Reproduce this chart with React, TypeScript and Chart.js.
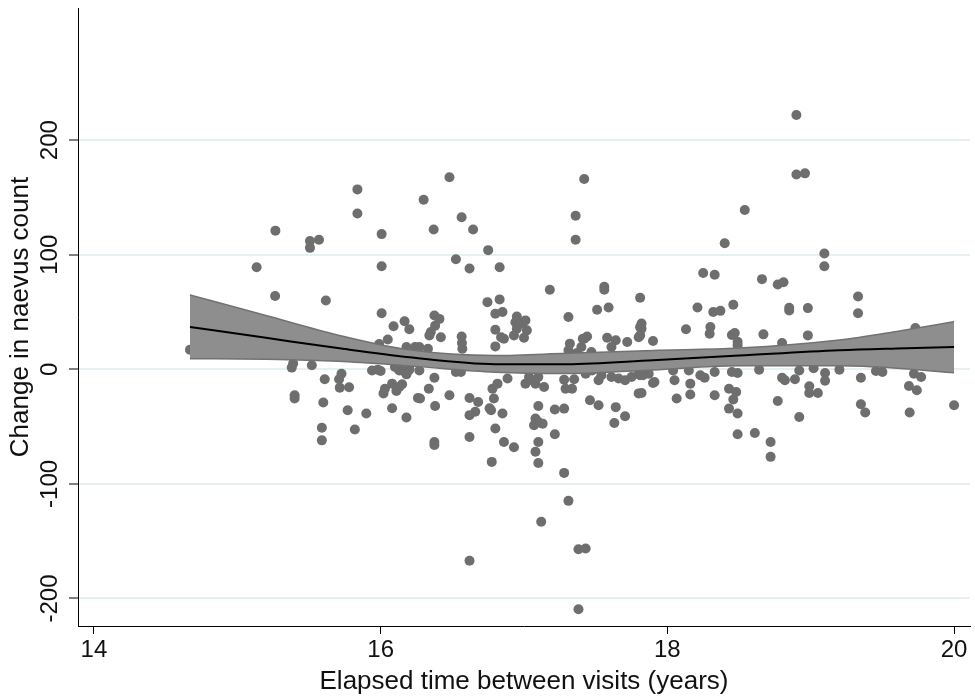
import React, { useEffect, useRef } from "react";
import { Chart, registerables } from "chart.js";

Chart.register(...registerables);

// Scatter: elapsed time (years) vs change in naevus count
const elapsedYears = [
  14.67, 15.135, 15.266, 15.507, 15.57, 15.507, 15.838, 15.838, 16.007, 16.007,
  15.264, 15.618, 16.007, 16.09, 16.167, 16.2, 16.05, 15.99, 15.39, 15.38,
  15.52, 15.61, 15.727, 15.71, 15.715, 15.78, 15.4, 15.4, 15.6, 15.77,
  15.9, 16.08, 16.18, 15.59, 15.59, 15.82, 15.94, 15.98, 16.0, 16.03,
  16.02, 16.08, 16.13, 16.15, 16.11, 16.18, 16.26, 16.15, 16.2, 16.18,
  16.25, 16.375, 16.41, 16.38, 16.35, 16.34, 16.42, 16.565, 16.567, 16.57,
  16.24, 16.27, 16.33, 16.1, 16.13, 16.18, 16.2, 16.27, 16.525, 16.56,
  16.375, 16.336, 16.275, 16.38, 16.48, 16.62, 16.68, 16.66, 16.62, 16.77,
  16.78, 16.79, 16.815, 16.745, 16.8, 16.8, 16.8, 17.18, 17.56, 17.56,
  17.81, 16.83, 16.85, 17.51, 17.59, 17.31, 16.95, 16.94, 16.99, 17.01,
  16.95, 17.02, 17.0, 16.93, 16.84, 16.86, 17.32, 17.31, 17.37, 17.4,
  17.41, 17.44, 17.42, 17.47, 17.58, 17.64, 17.61, 17.72, 17.8, 17.81,
  16.375, 16.375, 16.62, 16.76, 16.8, 16.85, 16.885, 16.86, 16.93, 16.775,
  17.035, 17.06, 17.1, 17.08, 17.01, 17.14, 17.1, 17.08, 17.1, 17.07,
  17.13, 17.215, 17.28, 17.215, 17.1, 17.08, 17.1, 17.28, 17.28, 17.35,
  17.29, 17.335, 17.46, 17.52, 17.52, 17.54, 17.61, 17.66, 17.705, 17.75,
  17.81, 17.8, 17.64, 17.705, 17.63, 17.405, 17.475, 17.43, 17.82, 17.82,
  17.81, 17.9, 17.9, 18.21, 18.32, 18.37, 18.46, 18.13, 18.3, 18.295,
  18.45, 18.47, 18.49, 18.49, 18.67, 18.85, 18.85, 18.98, 18.8, 18.98,
  19.33, 19.33, 19.73, 17.8, 17.83, 17.87, 17.91, 17.82, 18.04, 18.05,
  18.065, 18.15, 18.16, 18.16, 18.23, 18.26, 18.33, 18.33, 18.45, 18.49,
  18.43, 18.48, 18.46, 18.43, 18.49, 18.49, 18.61, 18.72, 18.72, 18.64,
  18.77, 18.8, 18.82, 18.89, 18.92, 18.92, 18.99, 18.99, 19.05, 19.02,
  19.1, 19.1, 19.2, 19.35, 19.35, 19.38, 19.455, 19.5, 19.685, 19.74,
  19.69, 19.72, 19.77, 20.0, 18.9, 18.9, 18.96, 18.54, 18.4, 19.095,
  19.095, 18.25, 18.33, 18.66, 18.77, 18.81, 16.48, 16.3, 16.565, 16.37,
  16.645, 16.75, 16.525, 16.62, 16.83, 17.42, 17.36, 17.36, 17.31, 17.12,
  17.38, 17.43, 16.62, 17.38,
];

const naevusChange = [
  17, 89, 121, 112, 113, 106, 157, 136, 118, 90,
  64, 60, 49, 37.5, 42, 35, 26, 22, 5, 1.5,
  3.5, -8.7, -3.8, -8.7, -16, -15.7, -22.7, -25.5, -29, -35.7,
  -38.6, -34, -42, -51, -62, -52.6, -1, -0.3, -1.5, -17,
  -21, -12.5, -15.4, -13, -19, -4.4, -25, -1, -0.3, 19.4,
  18, 47, 44, 38, 32.5, 29.6, 28, 28.7, 23, 18,
  19.4, 19.4, 18, 2, -1, -3.8, 0.6, -1, -2.3, -2.3,
  -7.3, -17, -25.5, -32, -22.7, -25, -28.5, -37, -40, -35.7,
  -17, -25.5, -12.5, 58.6, 48.5, 34.6, 20, 69.5, 72, 69.5,
  62.5, 61, 50, 52, 54, 45.6, 46, 41, 40, 42.7,
  35.5, 34, 27.6, 29.6, 28, 26.7, 22.4, 16.5, 14.2, 19.4,
  26.7, 28.7, 26.7, 15, 27.6, 25.3, 19.4, 23.8, 28, 36.8,
  -63.4, -66, -59, -34, -51.7, -38.6, -8, -63.4, -68, -80.8,
  -6.7, -9.6, -6.7, -12.5, -12.5, -15.4, -32, -43, -46, -48.8,
  -47.4, -35, -34.3, -56.6, -63.4, -72, -81.7, -90.4, -9, -8.7,
  -17, -17, -27, -31.4, -9.6, -5.2, -6.7, -8, -9.6, -6.7,
  -5.2, -21, -33, -41, -46.8, 0.6, -1, -3.8, 40, 35.5,
  29.6, 24.7, -12, 54, 50, 51, 56.4, 35, 37, 31,
  30, 31.7, 24, 21, 30.5, 53.8, 51.4, 53.4, 23, 29.6,
  63.6, 49, 36, -3.8, -5.2, -3.8, -11, -20.6, -1, -9.6,
  -25.5, -1, -12.5, -22, -5.2, -7.3, -2.3, -22.7, -2.3, -3.2,
  -17, -19.8, -26.4, -34.3, -38.6, -56.6, -55.5, -63.4, -76.4, -0.3,
  -27.6, -7.3, -9.6, -8.7, -1, -41.6, -14.8, -20.6, -20.6, 1,
  -3.2, -10, -0.3, -7.3, -30.5, -37.7, -1.5, -2.3, -14.5, -18.3,
  -37.7, -3.8, -6.7, -31.4, 222, 170, 171, 139, 110, 101,
  90, 84, 82.5, 78.7, 74, 76, 167.6, 148, 132.7, 122,
  122, 104, 96, 88, 89, 166, 134, 113, -114.8, -133,
  -157, -156.4, -167, -209.4,
];

// Smoothed fit with confidence band
const fitYears = [14.67, 15.2, 15.7, 16.2, 16.8, 17.3, 17.9, 18.5, 19.2, 19.6, 20.0];
const fitValues = [37, 27.5, 18.5, 10.5, 4.5, 4.5, 8, 12, 16.6, 18.2, 19.5];
const ciUpper = [64.8, 47, 30, 17, 12, 14, 16.5, 18.5, 25.5, 33, 41.5];
const ciLower = [9.3, 8.7, 7, 3, -2.5, -3.7, -0.5, 3, 3, 1, -3];

const xTicks = [14, 16, 18, 20];
const yTicks = [-200, -100, 0, 100, 200];

const FONT = "'Liberation Sans', Arial, Helvetica, sans-serif";

const yTickLabelPlugin = {
  id: "yTickLabels",
  afterDraw(chart: any) {
    const ctx = chart.ctx;
    const y = chart.scales.y;
    ctx.save();
    ctx.fillStyle = "#111";
    ctx.font = `24px ${FONT}`;
    ctx.textAlign = "center";
    ctx.textBaseline = "alphabetic";
    for (const v of yTicks) {
      const py = y.getPixelForValue(v);
      ctx.save();
      ctx.translate(57, py);
      ctx.rotate(-Math.PI / 2);
      ctx.fillText(String(v), 0, 0);
      ctx.restore();
    }
    ctx.restore();
  },
};

export default function App() {
  const ref = useRef<HTMLCanvasElement | null>(null);

  useEffect(() => {
    if (!ref.current) return;
    const zip = (xs: number[], ys: number[]) => xs.map((x, i) => ({ x, y: ys[i] }));
    const chart = new Chart(ref.current, {
      type: "line",
      data: {
        datasets: [
          {
            label: "fit",
            data: zip(fitYears, fitValues),
            borderColor: "#000",
            borderWidth: 2,
            pointRadius: 0,
            fill: false,
            cubicInterpolationMode: "monotone",
            order: 0,
          },
          {
            label: "upper",
            data: zip(fitYears, ciUpper),
            borderColor: "#727272",
            borderWidth: 1.5,
            backgroundColor: "#8e8e8e",
            pointRadius: 0,
            fill: 2,
            cubicInterpolationMode: "monotone",
            order: 2,
          },
          {
            label: "lower",
            data: zip(fitYears, ciLower),
            borderColor: "#727272",
            borderWidth: 1.5,
            pointRadius: 0,
            fill: false,
            cubicInterpolationMode: "monotone",
            order: 1,
          },
          {
            label: "points",
            data: zip(elapsedYears, naevusChange),
            showLine: false,
            pointRadius: 5,
            pointBorderWidth: 0,
            pointBackgroundColor: "#6e6e6e",
            borderWidth: 0,
            order: 3,
          },
        ] as any,
      },
      options: {
        animation: false,
        responsive: false,
        maintainAspectRatio: false,
        layout: { padding: { top: 8, right: 0, left: 0, bottom: 0 } },
        plugins: {
          legend: { display: false },
          tooltip: { enabled: false },
        },
        scales: {
          x: {
            type: "linear",
            min: 13.889,
            max: 20.111,
            afterBuildTicks: (s: any) => {
              s.ticks = xTicks.map((v) => ({ value: v }));
            },
            afterFit: (s: any) => {
              s.height = 73;
            },
            border: { display: true, color: "#000", width: 1 },
            grid: {
              drawOnChartArea: false,
              drawTicks: true,
              tickLength: 8,
              tickColor: "#000",
              tickWidth: 1,
            },
            ticks: {
              color: "#111",
              font: { family: FONT, size: 24 },
              padding: 2,
              maxRotation: 0,
              minRotation: 0,
              callback: (v: any) => String(v),
            },
            title: {
              display: true,
              text: "Elapsed time between visits (years)",
              color: "#111",
              font: { family: FONT, size: 26 },
              padding: { top: 0, bottom: 2 },
            },
          },
          y: {
            type: "linear",
            min: -224,
            max: 315.3,
            afterBuildTicks: (s: any) => {
              s.ticks = yTicks.map((v) => ({ value: v }));
            },
            afterFit: (s: any) => {
              s.width = 78;
            },
            border: { display: true, color: "#000", width: 1 },
            grid: {
              color: "#e6eff1",
              lineWidth: 2,
              drawTicks: true,
              tickLength: 9,
              tickColor: "#000",
              tickWidth: 1,
            },
            ticks: { display: false },
            title: {
              display: true,
              text: "Change in naevus count",
              color: "#111",
              font: { family: FONT, size: 26 },
              padding: { top: 5, bottom: 0 },
            },
          },
        },
      },
      plugins: [yTickLabelPlugin],
    });
    return () => chart.destroy();
  }, []);

  return (
    <div style={{ position: "absolute", left: 0, top: 0, width: 975, height: 699, background: "#fff" }}>
      <canvas ref={ref} width={975} height={699} />
    </div>
  );
}
